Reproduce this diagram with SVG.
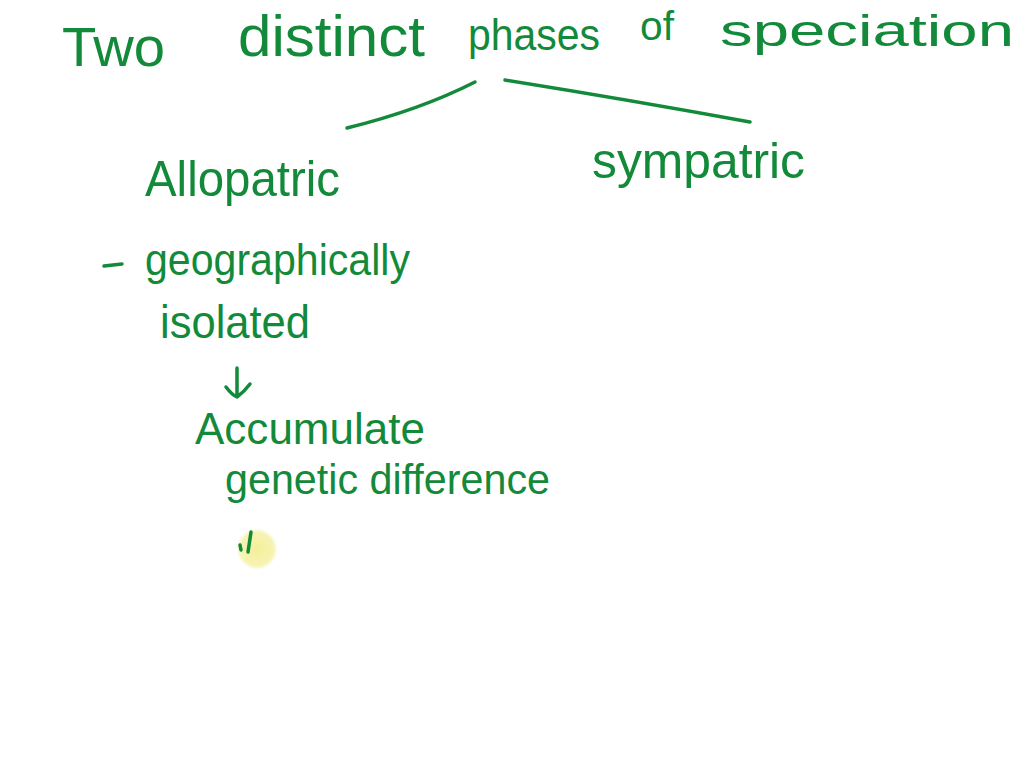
<svg xmlns="http://www.w3.org/2000/svg" width="1024" height="768" viewBox="0 0 1024 768">
<defs>
<style>
.h{font-family:"Liberation Sans","DejaVu Sans",sans-serif;fill:#138a3a;font-weight:normal}
.ln{stroke:#138a3a;stroke-width:3.5;fill:none;stroke-linecap:round;stroke-linejoin:round}
</style>
<radialGradient id="hl" cx="0.5" cy="0.5" r="0.5">
<stop offset="0" stop-color="#f3ee8c" stop-opacity="0.9"/>
<stop offset="0.8" stop-color="#f5f0a0" stop-opacity="0.8"/>
<stop offset="1" stop-color="#f8f4c0" stop-opacity="0"/>
</radialGradient>
</defs>
<rect width="1024" height="768" fill="#ffffff"/>
<g id="title">
<text class="h" x="62" y="66" font-size="56" textLength="103" lengthAdjust="spacingAndGlyphs">Two</text>
<text class="h" x="238" y="56" font-size="58" textLength="187" lengthAdjust="spacingAndGlyphs">distinct</text>
<text class="h" x="468" y="50" font-size="44" textLength="132" lengthAdjust="spacingAndGlyphs">phases</text>
<text class="h" x="640" y="40" font-size="40" textLength="34" lengthAdjust="spacingAndGlyphs">of</text>
<text class="h" x="720" y="46" font-size="44" textLength="294" lengthAdjust="spacingAndGlyphs">speciation</text>
</g>
<g id="connectors">
<path class="ln" d="M347,128 Q420,110 475,82"/>
<path class="ln" d="M505,80 Q630,100 750,122"/>
<path class="ln" d="M237,368 L237,397 M226,387 Q232,395 237,397 Q244,392 250,384"/>
</g>
<g id="allopatric">
<text class="h" x="145" y="196" font-size="50" textLength="195" lengthAdjust="spacingAndGlyphs">Allopatric</text>
</g>
<g id="sympatric">
<text class="h" x="592" y="178" font-size="50" textLength="213" lengthAdjust="spacingAndGlyphs">sympatric</text>
</g>
<g id="geographically">
<path class="ln" d="M104,266 L122,264"/>
<text class="h" x="145" y="275" font-size="44" textLength="265" lengthAdjust="spacingAndGlyphs">geographically</text>
<text class="h" x="160" y="338" font-size="46" textLength="150" lengthAdjust="spacingAndGlyphs">isolated</text>
</g>
<g id="accumulate">
<text class="h" x="195" y="444" font-size="44" textLength="230" lengthAdjust="spacingAndGlyphs">Accumulate</text>
<text class="h" x="225" y="494" font-size="42" textLength="325" lengthAdjust="spacingAndGlyphs">genetic difference</text>
</g>
<g id="mark">
<circle cx="257" cy="549" r="21" fill="url(#hl)"/>
<path class="ln" d="M251,532 L248,552 M240,545 L241,550"/>
</g>
</svg>
